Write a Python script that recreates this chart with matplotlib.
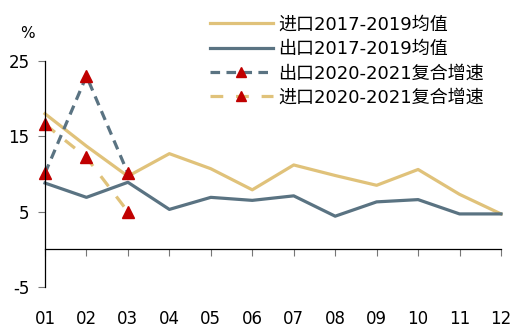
import matplotlib.pyplot as plt

plt.rcParams['font.family'] = ['DejaVu Sans', 'Noto Sans CJK SC']
plt.rcParams['axes.unicode_minus'] = False

months = ['01', '02', '03', '04', '05', '06', '07', '08', '09', '10', '11', '12']
import_avg = [18.0, 13.7, 9.7, 12.7, 10.7, 7.9, 11.2, 9.8, 8.5, 10.6, 7.3, 4.7]
export_avg = [8.8, 6.9, 8.9, 5.3, 6.9, 6.5, 7.1, 4.4, 6.3, 6.6, 4.7, 4.7]
export_new = [10.1, 23.0, 10.1]
import_new = [16.6, 12.2, 5.0]

tan = '#E0C27A'
slate = '#5A7382'
red = '#C00000'

fig = plt.figure(figsize=(5.21, 3.31), dpi=100)
ax = fig.add_axes([45 / 521, 44 / 331, 456 / 521, 226 / 331])

x = list(range(len(months)))
ax.plot(x, import_avg, color=tan, lw=2.3, label='进口2017-2019均值', clip_on=False)
ax.plot(x, export_avg, color=slate, lw=2.3, label='出口2017-2019均值', clip_on=False)
ax.plot(x[:3], export_new, color=slate, lw=2.3, ls=(0, (3, 2)), marker='^',
        ms=8, mfc=red, mec=red, label='出口2020-2021复合增速', clip_on=False)
ax.plot(x[:3], import_new, color=tan, lw=2.3, ls=(0, (4, 4)), marker='^',
        ms=8, mfc=red, mec=red, label='进口2020-2021复合增速', clip_on=False)

ax.set_xlim(0, 11)
ax.set_ylim(-5, 25)
ax.set_yticks([-5, 5, 15, 25])
ax.set_xticks(x)
ax.set_xticklabels(months)

ax.spines['top'].set_visible(False)
ax.spines['right'].set_visible(False)
ax.spines['bottom'].set_position(('data', 0))
ax.spines['left'].set_linewidth(0.9)
ax.spines['bottom'].set_linewidth(0.9)
ax.tick_params(axis='y', length=5, color='#777777', labelsize=12, pad=6)
ax.tick_params(axis='x', length=5, color='#777777', labelsize=12, pad=39)

fig.text(27 / 521, 1 - 33 / 331, '%', fontsize=11, ha='center', va='center')

leg = ax.legend(loc='upper left', bbox_to_anchor=(0.345, 1.232), frameon=False,
                fontsize=13, handlelength=3.5, handletextpad=0.3, labelspacing=0.35,
                borderaxespad=0)
for h in leg.legend_handles:
    h.set_markersize(7)

fig.savefig('out.png', dpi=100)
